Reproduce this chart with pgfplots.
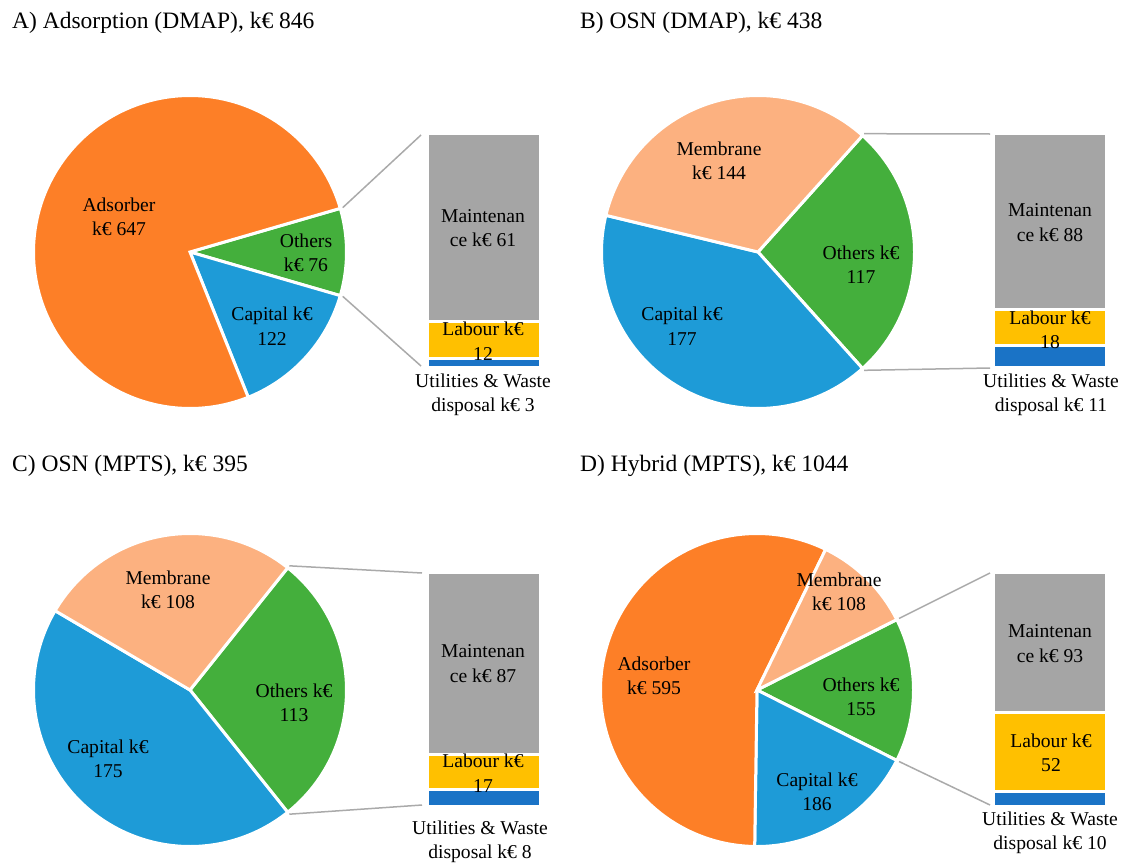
\documentclass[border=0pt]{standalone}
\usepackage{fontspec}
\setmainfont{Liberation Serif}
\usepackage{pgfplots}
\pgfplotsset{compat=1.18}
\definecolor{cAds}{RGB}{253,127,39}
\definecolor{cMem}{RGB}{252,177,128}
\definecolor{cOth}{RGB}{68,175,60}
\definecolor{cCap}{RGB}{30,155,215}
\definecolor{cMnt}{RGB}{165,165,165}
\definecolor{cLab}{RGB}{255,192,0}
\definecolor{cUti}{RGB}{26,115,198}
\definecolor{cLine}{RGB}{170,170,170}
\newcommand\lbl{\fontsize{19.6bp}{24.4bp}\selectfont}
\newcommand\ttl{\fontsize{23.5bp}{27bp}\selectfont}
% pie slice: colour, start angle, end angle
\newcommand\slice[3]{\addplot[fill=#1, draw=white, line width=3bp, domain=#2:#3, samples=150, variable=\t] ({cos(\t)},{sin(\t)}) -- (axis cs:0,0) -- cycle;}
\pgfplotsset{pie/.style={anchor=center, scale only axis, width=313bp, height=313bp,
  xmin=-1, xmax=1, ymin=-1, ymax=1, hide axis, clip=false},
  bar/.style={anchor=south west, scale only axis, width=113bp, height=234bp,
  xmin=-0.5, xmax=0.5, ymin=0, hide axis, ybar stacked, bar width=113bp, clip=false},
  seg/.style={draw=white, line width=3bp}}
% ---- pie values ----
% A) Adsorber 647, Capital 122, Others 76
\pgfmathsetmacro\Atot{647+122+76}
\pgfmathsetmacro\Aa{76/\Atot*180}
\pgfmathsetmacro\An{-\Aa}
\pgfmathsetmacro\Ab{\An-122/\Atot*360}
\pgfmathsetmacro\Ac{\Ab-647/\Atot*360}
% B) Membrane 144, Capital 177, Others 117
\pgfmathsetmacro\Btot{144+177+117}
\pgfmathsetmacro\Ba{117/\Btot*180}
\pgfmathsetmacro\Bn{-\Ba}
\pgfmathsetmacro\Bb{\Bn-177/\Btot*360}
\pgfmathsetmacro\Bc{\Bb-144/\Btot*360}
% C) Membrane 108, Capital 175, Others 113
\pgfmathsetmacro\Ctot{108+175+113}
\pgfmathsetmacro\Ca{113/\Ctot*180}
\pgfmathsetmacro\Cn{-\Ca}
\pgfmathsetmacro\Cb{\Cn-175/\Ctot*360}
\pgfmathsetmacro\Cc{\Cb-108/\Ctot*360}
% D) Adsorber 595, Membrane 108, Capital 186, Others 155
\pgfmathsetmacro\Dtot{595+108+186+155}
\pgfmathsetmacro\Da{155/\Dtot*180}
\pgfmathsetmacro\Dn{-\Da}
\pgfmathsetmacro\Db{\Dn-186/\Dtot*360}
\pgfmathsetmacro\Dc{\Db-595/\Dtot*360}
\pgfmathsetmacro\Dd{\Dc-108/\Dtot*360}
\begin{document}
\begin{tikzpicture}[every node/.style={inner sep=0pt, align=center, font=\lbl, text=black}]
\useasboundingbox (0,0) rectangle (1123bp,-863bp);
% titles
\node[anchor=west, font=\ttl] at (12bp,-23bp) {A) Adsorption (DMAP), k€ 846};
\node[anchor=west, font=\ttl] at (580bp,-23bp) {B) OSN (DMAP), k€ 438};
\node[anchor=west, font=\ttl] at (12bp,-466bp) {C) OSN (MPTS), k€ 395};
\node[anchor=west, font=\ttl] at (580bp,-466bp) {D) Hybrid (MPTS), k€ 1044};
% ===== A =====
\begin{axis}[pie, at={(190bp,-252bp)}]
\slice{cOth}{\An}{\Aa}
\slice{cCap}{\Ab}{\An}
\slice{cAds}{\Ac}{\Ab}
\end{axis}
\begin{axis}[bar, at={(427bp,-367.5bp)}, ymax=76]
\addplot[seg, fill=cUti] coordinates {(0,3)};
\addplot[seg, fill=cLab] coordinates {(0,12)};
\addplot[seg, fill=cMnt] coordinates {(0,61)};
\end{axis}
\draw[cLine, line width=1.5bp] (190bp,-252bp) ++(\Aa:159bp) -- (421bp,-135bp);
\draw[cLine, line width=1.5bp] (190bp,-252bp) ++(\An:159bp) -- (421bp,-366bp);
\node at (119bp,-217bp) {Adsorber\\k€ 647};
\node at (306bp,-252.5bp) {Others\\k€ 76};
\node at (272bp,-326bp) {Capital k€\\122};
\node at (483bp,-228bp) {Maintenan\\ce k€ 61};
\node at (483bp,-341bp) {Labour k€\\12};
\node at (483bp,-395bp) {Utilities \& Waste\\disposal k€ 3};
% ===== B =====
\begin{axis}[pie, at={(758bp,-252bp)}]
\slice{cOth}{\Bn}{\Ba}
\slice{cCap}{\Bb}{\Bn}
\slice{cMem}{\Bc}{\Bb}
\end{axis}
\begin{axis}[bar, at={(993bp,-367.5bp)}, ymax=117]
\addplot[seg, fill=cUti] coordinates {(0,11)};
\addplot[seg, fill=cLab] coordinates {(0,18)};
\addplot[seg, fill=cMnt] coordinates {(0,88)};
\end{axis}
\draw[cLine, line width=1.5bp] (758bp,-252bp) ++(\Ba:159bp) -- (990bp,-134bp);
\draw[cLine, line width=1.5bp] (758bp,-252bp) ++(\Bn:159bp) -- (990bp,-368bp);
\node at (719bp,-161bp) {Membrane\\k€ 144};
\node at (861bp,-264.5bp) {Others k€\\117};
\node at (682bp,-326bp) {Capital k€\\177};
\node at (1050bp,-222.5bp) {Maintenan\\ce k€ 88};
\node at (1050bp,-329.5bp) {Labour k€\\18};
\node at (1051bp,-395bp) {Utilities \& Waste\\disposal k€ 11};
% ===== C =====
\begin{axis}[pie, at={(190bp,-690bp)}]
\slice{cOth}{\Cn}{\Ca}
\slice{cCap}{\Cb}{\Cn}
\slice{cMem}{\Cc}{\Cb}
\end{axis}
\begin{axis}[bar, at={(427bp,-806.5bp)}, ymax=112]
\addplot[seg, fill=cUti] coordinates {(0,8)};
\addplot[seg, fill=cLab] coordinates {(0,17)};
\addplot[seg, fill=cMnt] coordinates {(0,87)};
\end{axis}
\draw[cLine, line width=1.5bp] (190bp,-690bp) ++(\Ca:159bp) -- (422bp,-573bp);
\draw[cLine, line width=1.5bp] (190bp,-690bp) ++(\Cn:159bp) -- (422bp,-805bp);
\node at (168bp,-589.5bp) {Membrane\\k€ 108};
\node at (294bp,-703bp) {Others k€\\113};
\node at (108bp,-759bp) {Capital k€\\175};
\node at (483bp,-663.5bp) {Maintenan\\ce k€ 87};
\node at (483bp,-773bp) {Labour k€\\17};
\node at (480bp,-842bp) {Utilities \& Waste\\disposal k€ 8};
% ===== D =====
\begin{axis}[pie, at={(757bp,-690bp)}]
\slice{cOth}{\Dn}{\Da}
\slice{cCap}{\Db}{\Dn}
\slice{cAds}{\Dc}{\Db}
\slice{cMem}{\Dd}{\Dc}
\end{axis}
\begin{axis}[bar, at={(993bp,-806.5bp)}, ymax=155]
\addplot[seg, fill=cUti] coordinates {(0,10)};
\addplot[seg, fill=cLab] coordinates {(0,52)};
\addplot[seg, fill=cMnt] coordinates {(0,93)};
\end{axis}
\draw[cLine, line width=1.5bp] (757bp,-690bp) ++(\Da:159bp) -- (990bp,-573bp);
\draw[cLine, line width=1.5bp] (757bp,-690bp) ++(\Dn:159bp) -- (990bp,-805bp);
\node at (839bp,-592bp) {Membrane\\k€ 108};
\node at (654bp,-675.5bp) {Adsorber\\k€ 595};
\node at (861bp,-697bp) {Others k€\\155};
\node at (817bp,-791.5bp) {Capital k€\\186};
\node at (1050bp,-643.5bp) {Maintenan\\ce k€ 93};
\node at (1051bp,-753bp) {Labour k€\\52};
\node at (1050bp,-833bp) {Utilities \& Waste\\disposal k€ 10};
\end{tikzpicture}
\end{document}
